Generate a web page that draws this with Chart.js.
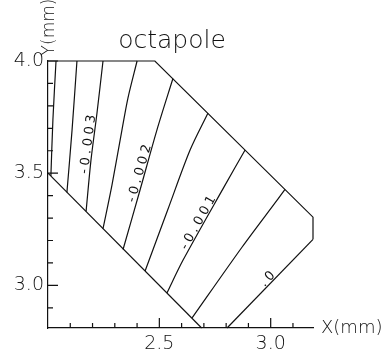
<!DOCTYPE html>
<html>
<head>
<meta charset="utf-8">
<script src="https://cdn.jsdelivr.net/npm/chart.js@4.4.1/dist/chart.umd.min.js"></script>
<style>
  html, body { margin: 0; padding: 0; background: #fff; }
  canvas { display: block; }
</style>
</head>
<body>
<canvas id="chart" width="384" height="351"></canvas>
<script>
// contour lines, x/y in mm (from top edge down to the lower-left edge)
const lineA = [[2.036, 4.0], [2.022, 3.737], [2.013, 3.487]];
const lineB = [[2.130, 4.0], [2.108, 3.692], [2.085, 3.415]];
const lineC = [[2.247, 4.0], [2.220, 3.768], [2.193, 3.558], [2.171, 3.330]];
const lineD = [[2.400, 4.0], [2.359, 3.835], [2.332, 3.692], [2.287, 3.446], [2.247, 3.253]];
const lineE = [[2.561, 3.922], [2.489, 3.692], [2.413, 3.424], [2.337, 3.160]];
const lineF = [[2.718, 3.767], [2.638, 3.603], [2.539, 3.340], [2.436, 3.064]];
const lineG = [[2.885, 3.603], [2.790, 3.438], [2.606, 3.112], [2.534, 2.966]];
const lineH = [[3.064, 3.428], [3.028, 3.379], [2.871, 3.170], [2.647, 2.855]];
const lineZero = [[2.804, 2.81], [3.19, 3.205]];

// outline of the computed region
const edgeUpper = [[2.0, 4.0], [2.48, 4.0], [3.19, 3.304], [3.19, 3.205]];
const edgeLower = [[2.0, 3.5], [2.69, 2.81]];

// contour labels: text, which line, y (mm) at the middle of the label
const labelTexts = ['-0.003', '-0.002', '-0.001', '.0'];
const labelLines = [lineC, lineE, lineG, lineZero];
const labelY = [3.634, 3.50, 3.275, 3.018];

// axes
const xMajor = [2.5, 3.0];
const xMinor = [2.1, 2.2, 2.3, 2.4, 2.6, 2.7, 2.8, 2.9, 3.1];
const yMajor = [3.0, 3.5, 4.0];
const yMinor = [2.9, 3.1, 3.2, 3.3, 3.4, 3.6, 3.7, 3.8, 3.9];

const ink = '#111';
const fontFam = '"DejaVu Sans", "Liberation Sans", sans-serif';

const curves = [lineA, lineB, lineC, lineD, lineE, lineF, lineG, lineH];
const straights = [lineZero, edgeUpper, edgeLower];

function pointAtY(pts, yv) {
  for (let i = 0; i < pts.length - 1; i++) {
    const [x0, y0] = pts[i], [x1, y1] = pts[i + 1];
    if ((yv - y0) * (yv - y1) <= 0) {
      const t = (yv - y0) / (y1 - y0);
      return { x: x0 + t * (x1 - x0), lo: y0 < y1 ? pts[i] : pts[i + 1], hi: y0 < y1 ? pts[i + 1] : pts[i] };
    }
  }
  return null;
}

const overlay = {
  id: 'overlay',
  afterDatasetsDraw(chart) {
    const { ctx, chartArea: a } = chart;
    const xs = chart.scales.x, ys = chart.scales.y;
    ctx.save();
    ctx.strokeStyle = ink;
    ctx.lineWidth = 1.2;

    // inward tick marks
    ctx.beginPath();
    xMinor.forEach(v => { const p = xs.getPixelForValue(v); ctx.moveTo(p, a.bottom); ctx.lineTo(p, a.bottom - 5); });
    xMajor.forEach(v => { const p = xs.getPixelForValue(v); ctx.moveTo(p, a.bottom); ctx.lineTo(p, a.bottom - 10); });
    yMinor.forEach(v => { const p = ys.getPixelForValue(v); ctx.moveTo(a.left, p); ctx.lineTo(a.left + 5, p); });
    yMajor.forEach(v => { const p = ys.getPixelForValue(v); ctx.moveTo(a.left, p); ctx.lineTo(a.left + 10, p); });
    ctx.stroke();

    // contour labels along their lines
    ctx.fillStyle = ink;
    ctx.font = '13px ' + fontFam;
    ctx.letterSpacing = '3.5px';
    ctx.textAlign = 'center';
    ctx.textBaseline = 'alphabetic';
    labelTexts.forEach((txt, i) => {
      const hit = pointAtY(labelLines[i], labelY[i]);
      if (!hit) return;
      const px = xs.getPixelForValue(hit.x), py = ys.getPixelForValue(labelY[i]);
      const ang = Math.atan2(ys.getPixelForValue(hit.hi[1]) - ys.getPixelForValue(hit.lo[1]),
                             xs.getPixelForValue(hit.hi[0]) - xs.getPixelForValue(hit.lo[0]));
      ctx.save();
      ctx.translate(px, py);
      ctx.rotate(ang);
      ctx.fillText(txt, 0, -1.5);
      ctx.restore();
    });
    ctx.letterSpacing = '0px';

    // title and axis names
    ctx.font = '200 25px ' + fontFam;
    ctx.textAlign = 'center';
    ctx.fillText('octapole', 172, 48);

    ctx.font = '200 18px ' + fontFam;
    ctx.textAlign = 'left';
    ctx.textBaseline = 'middle';
    ctx.fillText('X(mm)', a.right + 8, a.bottom);

    ctx.save();
    ctx.font = '200 17px ' + fontFam;
    ctx.translate(a.left + 2, 27);
    ctx.rotate(-Math.PI / 2);
    ctx.textAlign = 'center';
    ctx.fillText('Y(mm)', 0, 0);
    ctx.restore();

    ctx.restore();
  }
};

const lineStyle = (pts, tension) => ({
  data: pts.map(([x, y]) => ({ x, y })),
  showLine: true,
  borderColor: ink,
  borderWidth: 1.2,
  pointRadius: 0,
  tension,
  clip: false
});

new Chart(document.getElementById('chart'), {
  type: 'scatter',
  data: {
    datasets: curves.map(p => lineStyle(p, 0.3)).concat(straights.map(p => lineStyle(p, 0)))
  },
  options: {
    responsive: false,
    animation: false,
    layout: { padding: { top: 61, right: 71, left: 0, bottom: 0 } },
    plugins: {
      legend: { display: false },
      tooltip: { enabled: false },
      title: { display: false }
    },
    scales: {
      x: {
        type: 'linear',
        min: 2.0,
        max: 3.19,
        afterFit: s => { s.height = 23; },
        afterBuildTicks: s => { s.ticks = xMajor.map(v => ({ value: v })); },
        grid: { display: false, drawTicks: false },
        border: { display: true, color: ink, width: 1.2 },
        ticks: {
          padding: 5,
          color: ink,
          maxRotation: 0,
          font: { family: fontFam, size: 19, weight: 200 },
          callback: v => Number(v).toFixed(1)
        }
      },
      y: {
        type: 'linear',
        min: 2.81,
        max: 4.0,
        afterFit: s => { s.width = 48; },
        afterBuildTicks: s => { s.ticks = yMajor.map(v => ({ value: v })); },
        grid: { display: false, drawTicks: false },
        border: { display: true, color: ink, width: 1.2 },
        ticks: {
          padding: 4,
          color: ink,
          font: { family: fontFam, size: 19, weight: 200 },
          callback: v => Number(v).toFixed(1)
        }
      }
    }
  },
  plugins: [overlay]
});
</script>
</body>
</html>
